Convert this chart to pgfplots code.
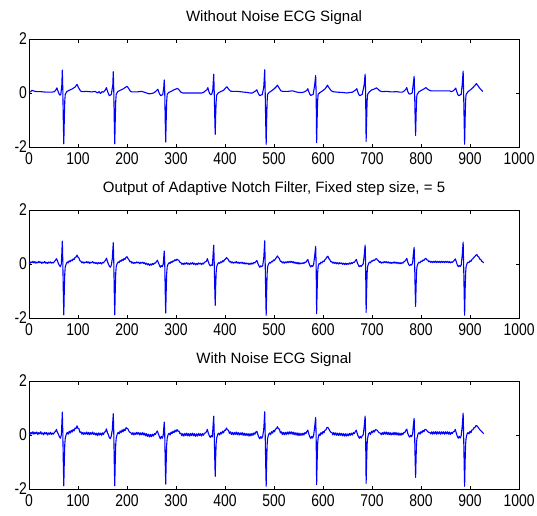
\documentclass[border=0pt]{standalone}
\usepackage{fontspec}
\setmainfont{Liberation Sans}
\newfontfamily\narrowfont[FakeStretch=0.82]{Liberation Sans}
\usepackage{pgfplots}
\pgfplotsset{compat=1.18}
\pgfplotsset{
  ecg/.style={
    scale only axis, width=490pt, height=108pt,
    xmin=0, xmax=1000, ymin=-2, ymax=2,
    xtick={0,100,...,1000}, ytick={-2,0,2},
    tick align=inside, tick pos=both,
    xticklabel pos=left, yticklabel pos=left,
    major tick length=3.5pt,
    axis line style={line width=0.8pt},
    every tick/.style={black, line width=0.6pt},
    tick label style={font=\narrowfont\fontsize{17}{17}\selectfont},
    xticklabel style={yshift=-2pt},
    yticklabel style={xshift=1.5pt},
    /pgf/number format/assume math mode=true,
    /pgf/number format/1000 sep={},
    yticklabels={-2,0,2},
    title style={font=\fontsize{15}{15}\selectfont, anchor=base, at={(0.5,1)}, yshift=12pt},
    anchor=south west,
  },
  sig/.style={blue, line width=1.1pt, mark=none, line join=round},
}
\begin{document}
\begin{tikzpicture}
\path[use as bounding box] (-29pt,-368pt) rectangle (508pt,147pt);
\begin{axis}[ecg, at={(0pt,0pt)}, title={Without Noise ECG Signal}]
\addplot[sig] coordinates {
(0,0.05)(3,0.04)(6,0.1)(9,0.08)(12,0.06)(18,0.05)(24,0.05)(30,0.04)(36,0.03)(42,0.03)(46,0.03)(52,0.05)(55,0.12)(57,0.19)(59,0.08)(61,-0.02)(63,-0.08)(65,-0.05)(67,0.3)(68,0.85)(69,0.1)(70,-1.0)(71,-1.88)(72,-1.0)(73,-0.3)(74,-0.05)(77,0.05)(82,0.1)(88,0.15)(94,0.22)(98,0.32)(101,0.2)(105,0.08)(108,0.05)(118,0.06)(128,0.04)(135,0.06)(140,0.0)(143,0.05)(146,-0.02)(149,0.05)
(152,0.03)(156,0.12)(158,0.2)(160,0.08)(162,-0.02)(164,-0.1)(166,-0.08)(168,-0.05)(171,0.3)(172,0.79)(173,0.1)(174,-1.0)(175,-1.88)(176,-1.0)(177,-0.3)(178,-0.05)(181,0.05)(186,0.1)(192,0.15)(196,0.2)(200,0.25)(203,0.18)(207,0.06)(210,0.04)(220,0.04)(230,0.06)(235,0.03)(240,0.0)(245,-0.03)(250,-0.02)
(254,0.0)(258,0.05)(261,0.1)(263,0.14)(265,0.03)(267,-0.05)(269,-0.1)(271,-0.08)(273,-0.05)(275,0.2)(276,0.48)(277,0.05)(278,-1.0)(279,-1.82)(280,-1.0)(281,-0.3)(282,-0.05)(285,0.02)(290,0.06)(296,0.12)(300,0.15)(303,0.17)(306,0.12)(310,0.03)(314,0.0)(325,0.0)(335,0.0)(345,0.0)(352,0.0)
(356,0.02)(360,0.08)(363,0.12)(365,0.2)(367,0.06)(369,-0.03)(371,-0.06)(373,-0.04)(375,0.1)(376,0.4)(377,0.70)(378,0.05)(379,-0.8)(380,-1.53)(381,-0.8)(382,-0.3)(383,-0.08)(386,0.0)(391,0.05)(397,0.1)(401,0.18)(404,0.23)(407,0.15)(411,0.07)(415,0.06)(425,0.06)(435,0.04)(445,0.02)(452,0.0)
(456,0.0)(460,0.05)(463,0.08)(465,0.12)(467,0.02)(469,-0.05)(471,-0.1)(473,-0.08)(476,-0.06)(479,0.2)(480,0.5)(481,0.86)(482,0.05)(483,-1.0)(484,-1.9)(485,-1.0)(486,-0.3)(487,-0.05)(490,0.02)(495,0.08)(500,0.15)(504,0.22)(507,0.29)(510,0.2)(514,0.08)(518,0.06)(528,0.06)(538,0.08)(545,0.04)(552,0.02)
(558,0.02)(563,0.05)(567,0.1)(569,0.16)(571,0.05)(573,-0.04)(575,-0.09)(577,-0.07)(580,-0.05)(583,0.3)(585,0.65)(586,0.0)(587,-1.84)(588,-1.0)(589,-0.3)(590,-0.05)(594,0.02)(599,0.08)(604,0.15)(607,0.22)(609,0.29)(612,0.2)(616,0.1)(620,0.05)(630,0.03)(640,0.02)(648,0.0)(655,0.02)
(660,0.03)(664,0.08)(667,0.12)(669,0.16)(671,0.04)(673,-0.05)(675,-0.1)(677,-0.08)(680,-0.05)(684,0.3)(686,0.70)(687,0.0)(688,-1.79)(689,-1.0)(690,-0.3)(691,-0.05)(695,0.05)(700,0.12)(705,0.15)(709,0.19)(712,0.15)(716,0.08)(720,0.05)(730,0.06)(740,0.04)(750,0.05)(758,0.03)
(762,0.03)(766,0.08)(769,0.14)(771,0.2)(773,0.06)(775,-0.02)(777,-0.04)(779,-0.03)(782,0.0)(784,0.3)(786,0.62)(787,0.0)(788,-0.9)(789,-1.57)(790,-0.8)(791,-0.2)(792,-0.05)(796,0.05)(801,0.1)(806,0.15)(810,0.2)(813,0.15)(817,0.1)(821,0.08)(831,0.08)(841,0.08)(851,0.08)(858,0.08)
(862,0.05)(866,0.08)(869,0.14)(871,0.18)(873,0.05)(875,-0.05)(877,-0.1)(879,-0.08)(882,-0.05)(884,0.3)(886,0.81)(887,0.0)(888,-1.0)(889,-1.9)(890,-1.0)(891,-0.3)(892,-0.05)(896,0.05)(901,0.12)(906,0.2)(910,0.28)(913,0.35)(917,0.25)(921,0.15)(924,0.1)(926,0.05)
};
\end{axis}
\begin{axis}[ecg, at={(0pt,-171pt)}, title={Output of Adaptive Notch Filter, Fixed step size, = 5}]
\addplot[sig] coordinates {
(0,0.06)(2,0.02)(4,0.08)(6,0.05)(8,0.1)(10,0.04)(12,0.09)(14,0.03)(16,0.07)(18,0.04)(20,0.1)(22,0.05)(24,0.08)(26,0.02)(28,0.07)(30,0.04)(32,0.09)(34,0.03)(36,0.06)(38,0.02)(40,0.07)(42,0.04)(44,0.08)(46,0.03)(48,0.06)(50,0.04)(52,0.1)(54,0.13)(56,0.2)(58,0.12)(60,0.02)(62,-0.05)(64,-0.1)(66,0.0)(67,0.4)(68,0.85)(69,0.1)(70,-1.0)(71,-1.88)(72,-1.0)(73,-0.35)(74,-0.1)(76,0.0)(78,0.08)(80,0.04)(82,0.12)(84,0.08)(86,0.15)(88,0.12)(90,0.19)(92,0.16)(94,0.24)(96,0.26)(98,0.33)(100,0.25)(102,0.22)(104,0.12)(106,0.1)(108,0.04)(110,0.08)(112,0.03)(114,0.07)(116,0.05)(118,0.09)(120,0.04)(122,0.08)(124,0.02)(126,0.07)(128,0.05)(130,0.09)(132,0.03)(134,0.06)(136,0.02)(138,0.05)(140,0.0)(142,0.06)(144,0.02)(146,0.05)(148,0.0)
(150,0.06)(152,0.04)(154,0.1)(156,0.13)(158,0.22)(160,0.1)(162,0.0)(164,-0.08)(166,-0.12)(168,-0.04)(170,0.2)(171,0.5)(172,0.79)(173,0.1)(174,-1.0)(175,-1.88)(176,-1.0)(177,-0.35)(178,-0.1)(180,0.02)(182,0.08)(184,0.05)(186,0.13)(188,0.1)(190,0.17)(192,0.13)(194,0.2)(196,0.17)(198,0.25)(200,0.27)(202,0.2)(204,0.16)(206,0.08)(208,0.1)(210,0.03)(212,0.07)(214,0.02)(216,0.06)(218,0.03)(220,0.08)(222,0.04)(224,0.07)(226,0.01)(228,0.06)(230,0.03)(232,0.07)(234,0.02)(236,0.05)(238,-0.01)(240,0.03)(242,-0.03)(244,0.01)(246,-0.05)(248,0.0)(250,-0.04)
(252,0.02)(254,-0.02)(256,0.04)(258,0.03)(260,0.09)(262,0.14)(264,0.05)(266,-0.04)(268,-0.12)(270,-0.06)(272,-0.1)(274,0.0)(275,0.25)(276,0.48)(277,0.05)(278,-1.0)(279,-1.82)(280,-1.0)(281,-0.35)(282,-0.1)(284,0.0)(286,0.05)(288,0.02)(290,0.09)(292,0.06)(294,0.12)(296,0.1)(298,0.16)(300,0.13)(302,0.18)(304,0.15)(306,0.13)(308,0.06)(310,0.05)(312,-0.01)(314,0.03)(316,-0.02)(318,0.04)(320,0.0)(322,0.05)(324,-0.01)(326,0.03)(328,-0.02)(330,0.04)(332,0.0)(334,0.05)(336,-0.01)(338,0.03)(340,-0.03)(342,0.02)(344,-0.02)(346,0.04)(348,0.0)(350,0.03)(352,-0.02)(354,0.03)
(356,0.0)(358,0.06)(360,0.08)(362,0.1)(364,0.2)(366,0.08)(368,-0.02)(370,-0.07)(372,-0.03)(374,-0.05)(375,0.15)(376,0.45)(377,0.70)(378,0.05)(379,-0.8)(380,-1.53)(381,-0.8)(382,-0.3)(383,-0.1)(385,0.0)(387,0.05)(389,0.02)(391,0.08)(393,0.05)(395,0.12)(397,0.09)(399,0.16)(401,0.18)(403,0.24)(405,0.2)(407,0.16)(409,0.08)(411,0.1)(413,0.04)(415,0.08)(417,0.03)(419,0.07)(421,0.04)(423,0.09)(425,0.03)(427,0.07)(429,0.02)(431,0.06)(433,0.03)(435,0.07)(437,0.01)(439,0.05)(441,0.0)(443,0.04)(445,0.0)(447,0.03)(449,-0.02)(451,0.03)(453,-0.01)(455,0.04)
(457,0.0)(459,0.06)(461,0.04)(463,0.09)(465,0.13)(467,0.03)(469,-0.06)(471,-0.12)(473,-0.07)(475,-0.1)(477,-0.05)(479,0.2)(480,0.5)(481,0.86)(482,0.05)(483,-1.0)(484,-1.9)(485,-1.0)(486,-0.35)(487,-0.1)(489,0.0)(491,0.06)(493,0.03)(495,0.1)(497,0.08)(499,0.15)(501,0.13)(503,0.2)(505,0.24)(507,0.3)(509,0.24)(511,0.2)(513,0.1)(515,0.1)(517,0.04)(519,0.08)(521,0.03)(523,0.08)(525,0.04)(527,0.09)(529,0.05)(531,0.1)(533,0.06)(535,0.1)(537,0.05)(539,0.09)(541,0.03)(543,0.07)(545,0.02)(547,0.06)(549,0.0)(551,0.05)(553,0.0)(555,0.04)(557,0.01)
(559,0.05)(561,0.02)(563,0.07)(565,0.06)(567,0.12)(569,0.17)(571,0.05)(573,-0.05)(575,-0.11)(577,-0.06)(579,-0.09)(581,0.0)(583,0.3)(585,0.65)(586,0.0)(587,-1.84)(588,-1.0)(589,-0.35)(590,-0.1)(592,0.02)(594,0.0)(596,0.07)(598,0.04)(600,0.11)(602,0.09)(604,0.16)(606,0.2)(608,0.26)(610,0.29)(612,0.2)(614,0.16)(616,0.08)(618,0.09)(620,0.03)(622,0.07)(624,0.02)(626,0.06)(628,0.01)(630,0.05)(632,0.0)(634,0.05)(636,0.01)(638,0.04)(640,-0.01)(642,0.03)(644,-0.02)(646,0.03)(648,-0.02)(650,0.02)(652,-0.01)(654,0.04)(656,0.0)(658,0.05)
(660,0.02)(662,0.07)(664,0.06)(666,0.12)(668,0.17)(670,0.05)(672,-0.04)(674,-0.1)(676,-0.06)(678,-0.09)(680,-0.04)(682,0.0)(684,0.3)(686,0.70)(687,0.0)(688,-1.79)(689,-1.0)(690,-0.35)(691,-0.1)(693,0.02)(695,0.07)(697,0.04)(699,0.12)(701,0.1)(703,0.15)(705,0.13)(707,0.18)(709,0.2)(711,0.15)(713,0.13)(715,0.06)(717,0.09)(719,0.03)(721,0.07)(723,0.04)(725,0.09)(727,0.05)(729,0.09)(731,0.04)(733,0.08)(735,0.03)(737,0.07)(739,0.02)(741,0.06)(743,0.03)(745,0.08)(747,0.03)(749,0.07)(751,0.02)(753,0.06)(755,0.01)(757,0.05)(759,0.01)
(761,0.05)(763,0.03)(765,0.08)(767,0.1)(769,0.15)(771,0.21)(773,0.07)(775,-0.02)(777,-0.06)(779,-0.02)(781,-0.04)(783,0.05)(784,0.3)(786,0.62)(787,0.0)(788,-0.9)(789,-1.57)(790,-0.8)(791,-0.25)(792,-0.08)(794,0.02)(796,0.07)(798,0.04)(800,0.11)(802,0.09)(804,0.15)(806,0.13)(808,0.19)(810,0.21)(812,0.15)(814,0.14)(816,0.08)(818,0.11)(820,0.06)(822,0.1)(824,0.05)(826,0.1)(828,0.06)(830,0.11)(832,0.05)(834,0.1)(836,0.06)(838,0.1)(840,0.05)(842,0.1)(844,0.06)(846,0.1)(848,0.05)(850,0.1)(852,0.06)(854,0.1)(856,0.05)(858,0.09)(860,0.04)
(862,0.08)(864,0.06)(866,0.1)(868,0.14)(870,0.19)(872,0.08)(874,-0.03)(876,-0.1)(878,-0.06)(880,-0.09)(882,-0.04)(884,0.3)(886,0.81)(887,0.0)(888,-1.0)(889,-1.9)(890,-1.0)(891,-0.35)(892,-0.1)(894,0.02)(896,0.07)(898,0.05)(900,0.12)(902,0.1)(904,0.17)(906,0.2)(908,0.25)(910,0.28)(912,0.33)(914,0.35)(916,0.28)(918,0.26)(920,0.18)(922,0.17)(924,0.1)(926,0.08)(928,0.04)
};
\end{axis}
\begin{axis}[ecg, at={(0pt,-342pt)}, title={With Noise ECG Signal}]
\addplot[sig] coordinates {
(0,0.08)(2,0.02)(4,0.1)(6,0.04)(8,0.12)(10,0.03)(12,0.1)(14,0.05)(16,0.11)(18,0.02)(20,0.09)(22,0.04)(24,0.12)(26,0.03)(28,0.08)(30,0.01)(32,0.1)(34,0.04)(36,0.09)(38,0.0)(40,0.08)(42,0.03)(44,0.1)(46,0.02)(48,0.07)(50,0.03)(52,0.11)(54,0.12)(56,0.21)(58,0.1)(60,0.03)(62,-0.06)(64,-0.12)(66,0.0)(67,0.4)(68,0.85)(69,0.1)(70,-1.0)(71,-1.88)(72,-1.0)(73,-0.35)(74,-0.12)(76,0.02)(78,0.1)(80,0.03)(82,0.14)(84,0.07)(86,0.17)(88,0.11)(90,0.21)(92,0.15)(94,0.26)(96,0.24)(98,0.34)(100,0.24)(102,0.23)(104,0.1)(106,0.12)(108,0.03)(110,0.1)(112,0.02)(114,0.09)(116,0.03)(118,0.11)(120,0.02)(122,0.1)(124,0.01)(126,0.09)(128,0.03)(130,0.11)(132,0.02)(134,0.08)(136,0.0)(138,0.07)(140,-0.02)(142,0.08)(144,0.0)(146,0.07)(148,-0.01)
(150,0.08)(152,0.02)(154,0.11)(156,0.12)(158,0.23)(160,0.09)(162,0.01)(164,-0.1)(166,-0.13)(168,-0.03)(170,0.2)(171,0.5)(172,0.79)(173,0.1)(174,-1.0)(175,-1.88)(176,-1.0)(177,-0.35)(178,-0.12)(180,0.03)(182,0.1)(184,0.04)(186,0.15)(188,0.09)(190,0.19)(192,0.12)(194,0.22)(196,0.16)(198,0.27)(200,0.25)(202,0.22)(204,0.14)(206,0.1)(208,0.08)(210,0.02)(212,0.09)(214,0.0)(216,0.08)(218,0.02)(220,0.1)(222,0.03)(224,0.09)(226,0.0)(228,0.08)(230,0.01)(232,0.09)(234,0.0)(236,0.07)(238,-0.03)(240,0.05)(242,-0.05)(244,0.03)(246,-0.07)(248,0.02)(250,-0.06)
(252,0.03)(254,-0.04)(256,0.05)(258,0.02)(260,0.1)(262,0.15)(264,0.04)(266,-0.05)(268,-0.14)(270,-0.05)(272,-0.12)(274,0.0)(275,0.25)(276,0.48)(277,0.05)(278,-1.0)(279,-1.82)(280,-1.0)(281,-0.35)(282,-0.12)(284,0.02)(286,0.07)(288,0.0)(290,0.11)(292,0.05)(294,0.14)(296,0.09)(298,0.18)(300,0.12)(302,0.2)(304,0.14)(306,0.15)(308,0.05)(310,0.07)(312,-0.03)(314,0.05)(316,-0.04)(318,0.06)(320,-0.02)(322,0.07)(324,-0.03)(326,0.05)(328,-0.04)(330,0.06)(332,-0.02)(334,0.07)(336,-0.03)(338,0.05)(340,-0.05)(342,0.04)(344,-0.04)(346,0.06)(348,-0.02)(350,0.05)(352,-0.04)(354,0.05)
(356,-0.01)(358,0.07)(360,0.07)(362,0.12)(364,0.21)(366,0.07)(368,-0.03)(370,-0.09)(372,-0.02)(374,-0.07)(375,0.15)(376,0.45)(377,0.70)(378,0.05)(379,-0.8)(380,-1.53)(381,-0.8)(382,-0.3)(383,-0.12)(385,0.02)(387,0.07)(389,0.0)(391,0.1)(393,0.04)(395,0.14)(397,0.08)(399,0.18)(401,0.17)(403,0.26)(405,0.19)(407,0.18)(409,0.06)(411,0.12)(413,0.02)(415,0.1)(417,0.01)(419,0.09)(421,0.02)(423,0.11)(425,0.01)(427,0.09)(429,0.0)(431,0.08)(433,0.01)(435,0.09)(437,-0.01)(439,0.07)(441,-0.02)(443,0.06)(445,-0.02)(447,0.05)(449,-0.04)(451,0.05)(453,-0.03)(455,0.06)
(457,-0.01)(459,0.08)(461,0.03)(463,0.11)(465,0.14)(467,0.02)(469,-0.08)(471,-0.14)(473,-0.06)(475,-0.12)(477,-0.04)(479,0.2)(480,0.5)(481,0.86)(482,0.05)(483,-1.0)(484,-1.9)(485,-1.0)(486,-0.35)(487,-0.12)(489,0.02)(491,0.08)(493,0.01)(495,0.12)(497,0.07)(499,0.17)(501,0.12)(503,0.22)(505,0.23)(507,0.31)(509,0.23)(511,0.22)(513,0.08)(515,0.12)(517,0.02)(519,0.1)(521,0.01)(523,0.1)(525,0.02)(527,0.11)(529,0.03)(531,0.12)(533,0.04)(535,0.12)(537,0.03)(539,0.11)(541,0.01)(543,0.09)(545,0.0)(547,0.08)(549,-0.02)(551,0.07)(553,-0.02)(555,0.06)(557,-0.01)
(559,0.07)(561,0.0)(563,0.09)(565,0.05)(567,0.13)(569,0.18)(571,0.04)(573,-0.06)(575,-0.13)(577,-0.05)(579,-0.11)(581,0.0)(583,0.3)(585,0.65)(586,0.0)(587,-1.84)(588,-1.0)(589,-0.35)(590,-0.12)(592,0.04)(594,-0.02)(596,0.09)(598,0.03)(600,0.13)(602,0.08)(604,0.18)(606,0.19)(608,0.28)(610,0.28)(612,0.22)(614,0.15)(616,0.1)(618,0.1)(620,0.01)(622,0.09)(624,0.0)(626,0.08)(628,-0.01)(630,0.07)(632,-0.02)(634,0.07)(636,-0.01)(638,0.06)(640,-0.03)(642,0.05)(644,-0.04)(646,0.05)(648,-0.04)(650,0.04)(652,-0.03)(654,0.06)(656,-0.01)(658,0.07)
(660,0.0)(662,0.09)(664,0.05)(666,0.13)(668,0.18)(670,0.04)(672,-0.05)(674,-0.12)(676,-0.05)(678,-0.11)(680,-0.03)(682,0.0)(684,0.3)(686,0.70)(687,0.0)(688,-1.79)(689,-1.0)(690,-0.35)(691,-0.12)(693,0.04)(695,0.09)(697,0.02)(699,0.14)(701,0.08)(703,0.17)(705,0.11)(707,0.2)(709,0.19)(711,0.17)(713,0.11)(715,0.08)(717,0.07)(719,0.01)(721,0.09)(723,0.02)(725,0.11)(727,0.03)(729,0.11)(731,0.02)(733,0.1)(735,0.01)(737,0.09)(739,0.0)(741,0.08)(743,0.01)(745,0.1)(747,0.01)(749,0.09)(751,0.0)(753,0.08)(755,-0.01)(757,0.07)(759,-0.01)
(761,0.07)(763,0.02)(765,0.1)(767,0.09)(769,0.17)(771,0.22)(773,0.06)(775,-0.03)(777,-0.08)(779,-0.01)(781,-0.06)(783,0.05)(784,0.3)(786,0.62)(787,0.0)(788,-0.9)(789,-1.57)(790,-0.8)(791,-0.25)(792,-0.1)(794,0.04)(796,0.09)(798,0.03)(800,0.13)(802,0.08)(804,0.17)(806,0.12)(808,0.21)(810,0.2)(812,0.17)(814,0.12)(816,0.1)(818,0.09)(820,0.04)(822,0.12)(824,0.03)(826,0.12)(828,0.04)(830,0.13)(832,0.03)(834,0.12)(836,0.04)(838,0.12)(840,0.03)(842,0.12)(844,0.04)(846,0.12)(848,0.03)(850,0.12)(852,0.04)(854,0.12)(856,0.03)(858,0.11)(860,0.02)
(862,0.1)(864,0.05)(866,0.12)(868,0.13)(870,0.21)(872,0.07)(874,-0.04)(876,-0.12)(878,-0.05)(880,-0.11)(882,-0.03)(884,0.3)(886,0.81)(887,0.0)(888,-1.0)(889,-1.9)(890,-1.0)(891,-0.35)(892,-0.12)(894,0.04)(896,0.09)(898,0.04)(900,0.14)(902,0.09)(904,0.19)(906,0.19)(908,0.27)(910,0.27)(912,0.35)(914,0.34)(916,0.3)(918,0.25)(920,0.2)(922,0.16)(924,0.12)(926,0.09)(928,0.05)
};
\end{axis}
\end{tikzpicture}
\end{document}
